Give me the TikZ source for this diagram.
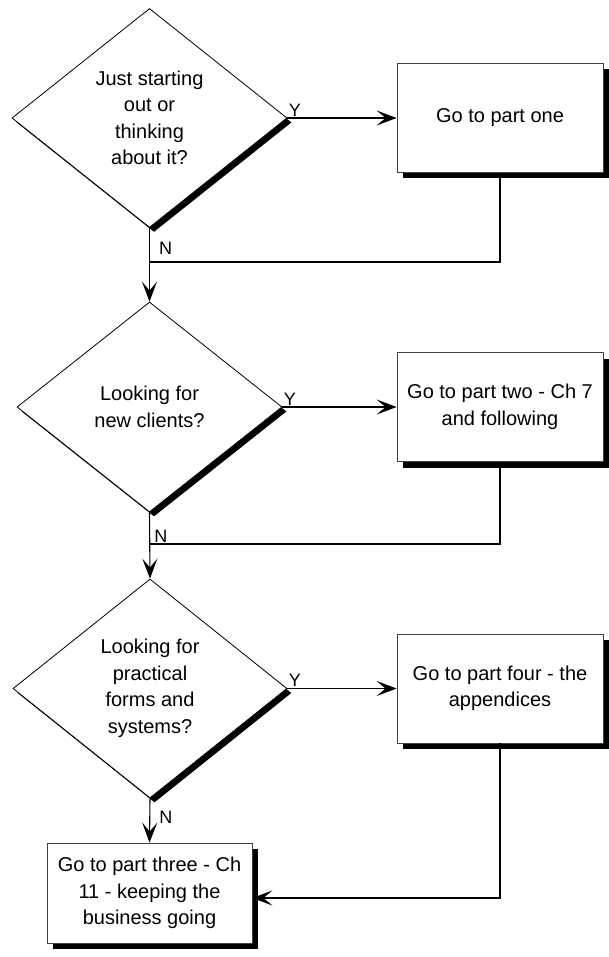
\documentclass[tikz,border=0pt]{standalone}
\usepackage{fontspec}
\setmainfont{Liberation Sans}
\usetikzlibrary{shapes.geometric, shadows, arrows.meta}

\tikzset{
  ask/.style={diamond, draw, line width=0.8pt, fill=white, inner sep=0pt, align=center,
    general shadow={fill=black, shadow xshift=4.5pt, shadow yshift=-4.5pt}},
  goto/.style={rectangle, draw=black!75, line width=0.8pt, fill=white, inner sep=0pt, align=center,
    minimum width=206pt, minimum height=109pt,
    general shadow={fill=black, shadow xshift=6pt, shadow yshift=-6pt}},
  flow/.style={line width=1.1pt, -{Stealth[length=20pt, width=15pt, inset=9pt]}},
  link/.style={line width=1.1pt},
  tag/.style={font=\fontsize{18}{20}\selectfont, inner sep=1pt}
}

\begin{document}
\begin{tikzpicture}[x=1pt, y=-1pt, font=\fontsize{20}{26.5}\selectfont]
\useasboundingbox (0,0) rectangle (609,957);
% questions
\node[ask, minimum width=275pt, minimum height=219pt] (q1) at (149.5,118) {Just starting\\out or\\thinking\\about it?};
\node[ask, minimum width=265pt, minimum height=210pt] (q2) at (149.5,407) {Looking for\\new clients?};
\node[ask, minimum width=274pt, minimum height=219pt] (q3) at (150,688.5) {Looking for\\practical\\forms and\\systems?};
% answers
\node[goto] (p1) at (500,118) {Go to part one};
\node[goto] (p2) at (500,407) {Go to part two - Ch 7\\and following};
\node[goto] (p4) at (500,688.5) {Go to part four - the\\appendices};
\node[goto, minimum width=205pt, minimum height=100pt] (p3) at (149.5,893) {Go to part three - Ch\\11 - keeping the\\business going};
% join points
\coordinate (j1) at (149.5,262);
\coordinate (j2) at (149.5,544);
% yes branches
\draw[flow] (q1.east) -- (p1.west) node[tag, pos=0, anchor=south west] {Y};
\draw[flow] (q2.east) -- (p2.west) node[tag, pos=0, anchor=south west] {Y};
\draw[flow] (q3.east) -- (p4.west) node[tag, pos=0, anchor=south west] {Y};
% no branches
\draw[flow] (q1.south) -- (q2.north) node[tag, pos=0.28, anchor=west, xshift=8pt] {N};
\draw[flow] (q2.south) -- (q3.north) node[tag, pos=0.48, anchor=south west, xshift=3pt] {N};
\draw[flow] (q3.south) -- (p3.north) node[tag, pos=0.42, anchor=west, xshift=8pt] {N};
% back to the main line
\draw[link] (p1.south) |- (j1);
\draw[link] (p2.south) |- (j2);
\draw[flow] (p4.south) |- ([yshift=-5pt]p3.east);
\end{tikzpicture}
\end{document}
